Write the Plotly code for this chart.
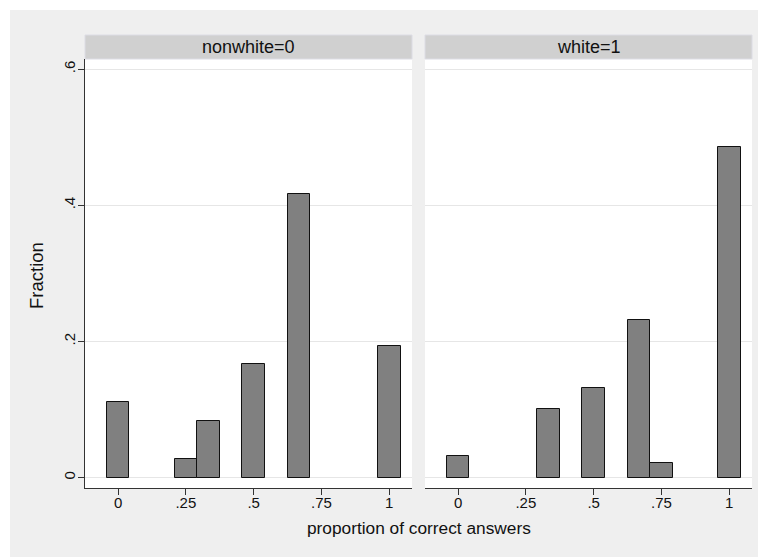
import plotly.graph_objects as go
from plotly.subplots import make_subplots

# ---- data ----
panel_labels = ["nonwhite=0", "white=1"]
x_nonwhite = [0, 0.25, 1/3, 0.5, 2/3, 1]
frac_nonwhite = [0.111, 0.028, 0.083, 0.167, 0.417, 0.194]
x_white = [0, 1/3, 0.5, 2/3, 0.75, 1]
frac_white = [0.031, 0.101, 0.131, 0.232, 0.021, 0.485]
bin_width = 1/12
x_tickvals = [0, 0.25, 0.5, 0.75, 1]
x_ticktext = ["0", ".25", ".5", ".75", "1"]
y_tickvals = [0, 0.2, 0.4, 0.6]
y_ticktext = ["0", ".2", ".4", ".6"]
x_title = "proportion of correct answers"
y_title = "Fraction"

# the page body adds an 8px offset, so the figure is drawn 8px smaller
OFF = 8
W, H = 766 - OFF, 557 - OFF
ML, MR, MT, MB = 85 - OFF, 14, 59 - OFF, 69
PW = W - ML - MR
PH = H - MT - MB
FONT = "Liberation Sans, Arial, Helvetica, sans-serif"
BG = "#efefef"
AXC = "#333333"

fig = make_subplots(rows=1, cols=2, shared_yaxes=True, horizontal_spacing=13 / PW)

for i, (xs, ys) in enumerate([(x_nonwhite, frac_nonwhite), (x_white, frac_white)]):
    fig.add_trace(
        go.Bar(
            x=xs, y=ys, width=bin_width,
            marker=dict(color="#808080", line=dict(color="#111111", width=1)),
            showlegend=False, hoverinfo="x+y",
        ),
        row=1, col=i + 1,
    )

fig.update_layout(
    width=W, height=H, autosize=False,
    margin=dict(l=ML, r=MR, t=MT, b=MB, pad=0),
    paper_bgcolor=BG, plot_bgcolor="white",
    font=dict(family=FONT, size=15, color="#111111"),
    bargap=0,
)

for ax in ["xaxis", "xaxis2"]:
    fig.layout[ax].update(
        range=[-0.122, 1.084], tickvals=x_tickvals, ticktext=x_ticktext,
        showline=True, linecolor=AXC, linewidth=1.3,
        ticks="outside", ticklen=6, tickcolor=AXC, tickwidth=1,
        ticklabelstandoff=-5,
        showgrid=False, zeroline=False,
        tickfont=dict(size=15, family=FONT, color="#111111"),
    )

fig.layout.yaxis.update(
    range=[-0.0153, 0.615], tickvals=y_tickvals, ticktext=y_ticktext,
    showline=True, linecolor=AXC, linewidth=1.3,
    ticks="outside", ticklen=6, tickcolor=AXC, tickwidth=1,
    ticklabelstandoff=-3,
    tickangle=-90, showgrid=True, gridcolor="#e6e6e6", gridwidth=1,
    zeroline=False, tickfont=dict(size=15, family=FONT, color="#111111"),
)
fig.layout.yaxis2.update(
    range=[-0.0153, 0.615], tickvals=y_tickvals, showticklabels=False,
    showline=False, ticks="", showgrid=True, gridcolor="#e6e6e6", gridwidth=1,
    zeroline=False,
)

# outer white border (top and left), 2px inside the figure
B = 10 - OFF
shapes = [
    dict(type="rect", xref="paper", yref="paper",
         x0=-ML / PW, x1=(B - ML) / PW, y0=-MB / PH, y1=(PH + MT) / PH,
         fillcolor="white", line=dict(width=0), layer="below"),
    dict(type="rect", xref="paper", yref="paper",
         x0=-ML / PW, x1=(W - ML) / PW, y0=(PH + MT - B) / PH, y1=(PH + MT) / PH,
         fillcolor="white", line=dict(width=0), layer="below"),
]
annotations = []
strip_h = 24 / PH
for i, lab in enumerate(panel_labels):
    dom = fig.layout["xaxis" if i == 0 else "xaxis2"].domain
    shapes.append(dict(type="rect", xref="paper", yref="paper",
                       x0=dom[0], x1=dom[1], y0=1, y1=1 + strip_h,
                       fillcolor="#d0d0d0", line=dict(color="#dcdce4", width=1)))
    annotations.append(dict(text=lab, xref="paper", yref="paper",
                            x=(dom[0] + dom[1]) / 2, y=1 + strip_h / 2,
                            xanchor="center", yanchor="middle", showarrow=False,
                            font=dict(size=18, family=FONT, color="#111111")))

annotations.append(dict(text=x_title, xref="paper", yref="paper",
                        x=0.5, y=(PH - (528 - OFF - MT)) / PH, xanchor="center", yanchor="middle",
                        showarrow=False, font=dict(size=17.3, family=FONT, color="#111111")))
annotations.append(dict(text=y_title, xref="paper", yref="paper",
                        x=(36 - OFF - ML) / PW, y=(PH - (275 - OFF - MT)) / PH,
                        xanchor="center", yanchor="middle",
                        textangle=-90, showarrow=False,
                        font=dict(size=18.5, family=FONT, color="#111111")))

fig.update_layout(shapes=shapes, annotations=annotations)
fig.write_html("out.html")
